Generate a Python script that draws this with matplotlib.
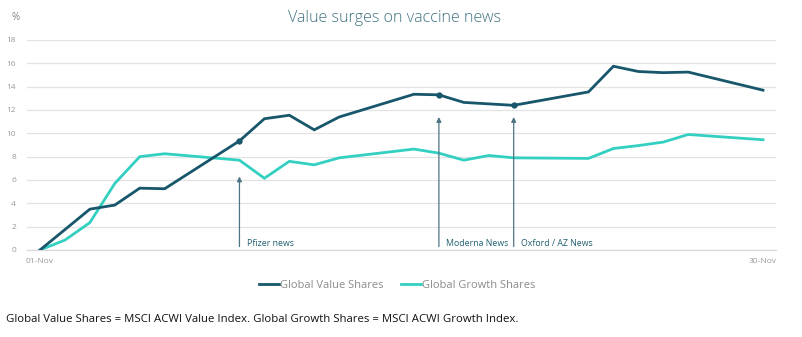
import matplotlib
matplotlib.use('Agg')
from matplotlib import pyplot as plt

# day index since 01-Nov (0) .. 30-Nov (29); only the visible vertices
value_days = [0, 2, 3, 4, 5, 8, 9, 10, 11, 12, 15, 16, 17, 19, 22, 23, 24, 25, 26, 29]
value_pct = [0, 3.5, 3.85, 5.3, 5.25, 9.35, 11.25, 11.55, 10.3, 11.4, 13.35, 13.3,
             12.65, 12.4, 13.55, 15.75, 15.3, 15.2, 15.25, 13.7]

growth_days = [0, 1, 2, 3, 4, 5, 8, 9, 10, 11, 12, 15, 16, 17, 18, 19, 22, 23, 24, 25, 26, 29]
growth_pct = [0, 0.85, 2.35, 5.7, 8.0, 8.25, 7.7, 6.15, 7.6, 7.3, 7.9, 8.65, 8.3,
              7.7, 8.1, 7.9, 7.85, 8.7, 8.95, 9.25, 9.9, 9.45]

news_days = [8, 16, 19]
news_labels = ['Pfizer news', 'Moderna News', 'Oxford / AZ News']
news_tips = [6.3, 11.4, 11.4]

x_ticks = [0, 29]
x_labels = ['01-Nov', '30-Nov']
y_ticks = [0, 2, 4, 6, 8, 10, 12, 14, 16, 18]

VALUE_COL = '#17566b'
GROWTH_COL = '#33d0c2'
NOTE_COL = '#1f5e70'

plt.rcParams['font.family'] = ['Open Sans', 'DejaVu Sans']

fig = plt.figure(figsize=(8.03, 3.37), dpi=100)
W, H = 803, 337
ax = fig.add_axes([27 / W, 1 - 250 / H, (776 - 27) / W, (250 - 40) / H])

ax.plot(value_days, value_pct, color=VALUE_COL, lw=2.0, label='Global Value Shares',
        solid_joinstyle='miter', zorder=3)
ax.plot(growth_days, growth_pct, color=GROWTH_COL, lw=2.0, label='Global Growth Shares',
        solid_joinstyle='miter', zorder=2)

# dots on value line at the news days
dot_vals = [value_pct[value_days.index(d)] for d in news_days]
ax.plot(news_days, dot_vals, 'o', color=VALUE_COL, ms=3.5, zorder=4)

for d, lab, tip in zip(news_days, news_labels, news_tips):
    ax.annotate('', xy=(d, tip), xytext=(d, 0.3),
                arrowprops=dict(arrowstyle='-|>', color='#4d7483', lw=0.9,
                                mutation_scale=7, shrinkA=0, shrinkB=0))
    ax.text(d + 0.3, 0.55, lab, color=NOTE_COL, fontsize=6.3, ha='left', va='center')

step = 13 / 24.93
ax.set_xlim(-step, 29 + step)
ax.set_ylim(0, 18)
ax.set_yticks(y_ticks)
ax.set_xticks(x_ticks)
ax.set_xticklabels(x_labels)
ax.tick_params(axis='both', length=0, labelsize=6, labelcolor='#999999')
ax.tick_params(axis='y', pad=8)
ax.tick_params(axis='x', pad=6)
ax.grid(axis='y', color='#e3e3e3', lw=0.9)
ax.set_axisbelow(True)
for s in ['top', 'right', 'left']:
    ax.spines[s].set_visible(False)
ax.spines['bottom'].set_color('#d9d9d9')
ax.spines['bottom'].set_linewidth(0.9)

fig.text(16 / W, 1 - 18 / H, '%', color='#888888', fontsize=7, ha='center', va='center')
fig.text(395 / W, 1 - 18 / H, 'Value surges on vaccine news', color='#3f7382',
         fontsize=11.6, ha='center', va='center', fontweight='light')

leg = fig.legend(loc='center', bbox_to_anchor=(397 / W, 1 - 285 / H), ncol=2,
                 frameon=False, fontsize=8, handlelength=1.8, handletextpad=0.1,
                 columnspacing=1.6)
for t in leg.get_texts():
    t.set_color('#8c8c8c')

fig.text(6 / W, 1 - 320 / H,
         'Global Value Shares = MSCI ACWI Value Index. Global Growth Shares = MSCI ACWI Growth Index.',
         color='#111111', fontsize=8.2, ha='left', va='center')

fig.savefig('out.png', dpi=100)
